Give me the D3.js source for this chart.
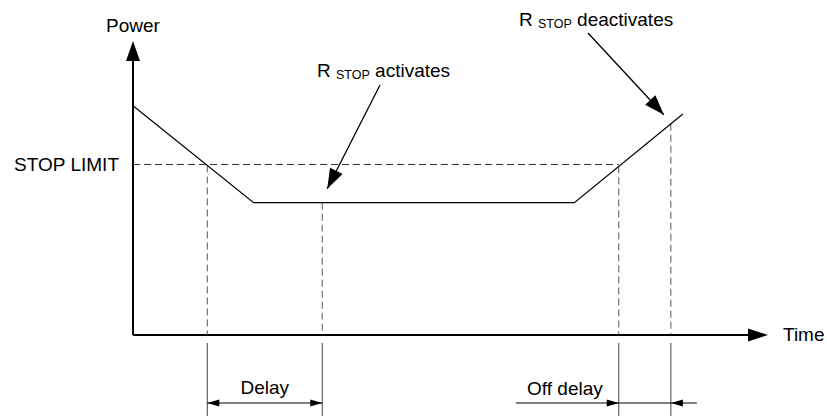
<!DOCTYPE html>
<html>
<head>
<meta charset="utf-8">
<script src="https://cdn.jsdelivr.net/npm/d3@7"></script>
<style>
  body { margin: 0; background: #fff; }
  text { font-family: "Liberation Sans", Arial, sans-serif; fill: #000; }
</style>
</head>
<body>
<script>
// data: tijd (0..10) en vermogen (0..10)
var curveTimes  = [0, 1.9, 6.95, 8.66];
var curvePower  = [7.8, 4.5, 4.5, 7.52];
var stopLimit   = 5.8;
var eventTimes  = [1.17, 2.98, 7.65, 8.47];   // grens, activeren, grens, deactiveren
var axisLabels  = ["Power", "Time", "STOP LIMIT"];
var delayLabels = ["Delay", "Off delay"];

var width = 827, height = 416;

var x = d3.scaleLinear().domain([0, 10]).range([133, 768]);
var y = d3.scaleLinear().domain([0, 10]).range([335, 41]);

var curve = curveTimes.map(function(t, i) { return {t: t, p: curvePower[i]}; });

// vermogen op tijd t (lineair tussen de knikpunten)
function powerAt(t) {
  for (var i = 1; i < curve.length; i++) {
    if (t <= curve[i].t) {
      var a = curve[i - 1], b = curve[i];
      return a.p + (b.p - a.p) * (t - a.t) / (b.t - a.t);
    }
  }
  return curve[curve.length - 1].p;
}

var svg = d3.select("body").append("svg")
    .attr("width", width)
    .attr("height", height);

// pijlpunt tekenen: punt op (x2,y2), richting vanaf (x1,y1)
function arrowHead(g, x1, y1, x2, y2, len, half) {
  var a = Math.atan2(y2 - y1, x2 - x1);
  var bx = x2 - len * Math.cos(a), by = y2 - len * Math.sin(a);
  var px = -Math.sin(a) * half, py = Math.cos(a) * half;
  g.append("path")
    .attr("d", "M" + x2 + "," + y2 + "L" + (bx + px) + "," + (by + py) +
               "L" + (bx - px) + "," + (by - py) + "Z")
    .attr("fill", "#000");
}

// assen
svg.append("line")
  .attr("x1", x(0)).attr("y1", y(0)).attr("x2", x(0)).attr("y2", y(10) + 18)
  .attr("stroke", "#000").attr("stroke-width", 2);
arrowHead(svg, x(0), y(0), x(0), y(10), 20, 7);

svg.append("line")
  .attr("x1", x(0)).attr("y1", y(0)).attr("x2", x(10) - 18).attr("y2", y(0))
  .attr("stroke", "#000").attr("stroke-width", 2);
arrowHead(svg, x(0), y(0), x(10), y(0), 20, 6.5);

// stop limit (gestreept)
svg.append("line")
  .attr("x1", x(0)).attr("y1", y(stopLimit))
  .attr("x2", x(eventTimes[2])).attr("y2", y(stopLimit))
  .attr("stroke", "#333").attr("stroke-dasharray", "7,4");

// verticale streeplijnen van de curve naar de tijdas
eventTimes.forEach(function(t) {
  svg.append("line")
    .attr("x1", x(t)).attr("y1", y(powerAt(t)))
    .attr("x2", x(t)).attr("y2", y(0))
    .attr("stroke", "#555").attr("stroke-dasharray", "7,4");
  // doorgetrokken lijnen onder de as
  svg.append("line")
    .attr("x1", x(t)).attr("y1", y(0) + 8)
    .attr("x2", x(t)).attr("y2", height)
    .attr("stroke", "#444");
});

// vermogenscurve
svg.append("path")
  .datum(curve)
  .attr("fill", "none")
  .attr("stroke", "#000")
  .attr("stroke-width", 1.2)
  .attr("d", d3.line().x(function(d) { return x(d.t); }).y(function(d) { return y(d.p); }));

// labels van de assen
svg.append("text").attr("x", x(0)).attr("y", 32)
  .attr("text-anchor", "middle").style("font-size", "19px").text(axisLabels[0]);
svg.append("text").attr("x", x(10) + 15).attr("y", y(0) + 6)
  .style("font-size", "19px").text(axisLabels[1]);
svg.append("text").attr("x", x(0) - 14).attr("y", y(stopLimit) + 7)
  .attr("text-anchor", "end").style("font-size", "19px").text(axisLabels[2]);

// delay maatpijl
var arrowY = 403;
svg.append("line")
  .attr("x1", x(eventTimes[0])).attr("y1", arrowY)
  .attr("x2", x(eventTimes[1])).attr("y2", arrowY)
  .attr("stroke", "#000");
arrowHead(svg, x(eventTimes[1]), arrowY, x(eventTimes[0]), arrowY, 12, 3.5);
arrowHead(svg, x(eventTimes[0]), arrowY, x(eventTimes[1]), arrowY, 12, 3.5);
svg.append("text")
  .attr("x", (x(eventTimes[0]) + x(eventTimes[1])) / 2).attr("y", 394)
  .attr("text-anchor", "middle").style("font-size", "19px").text(delayLabels[0]);

// off delay maatpijl (pijlen van buitenaf)
svg.append("line")
  .attr("x1", x(eventTimes[2]) - 103).attr("y1", arrowY)
  .attr("x2", x(eventTimes[3]) + 26).attr("y2", arrowY)
  .attr("stroke", "#000");
arrowHead(svg, x(eventTimes[2]) - 20, arrowY, x(eventTimes[2]), arrowY, 12, 3.5);
arrowHead(svg, x(eventTimes[3]) + 20, arrowY, x(eventTimes[3]), arrowY, 12, 3.5);
svg.append("text")
  .attr("x", x(eventTimes[2]) - 16).attr("y", 395)
  .attr("text-anchor", "end").style("font-size", "19px").text(delayLabels[1]);

// annotaties R STOP
function rstop(x0, yb, word) {
  var t = svg.append("text").attr("x", x0).attr("y", yb).style("font-size", "19px");
  t.append("tspan").text("R ");
  t.append("tspan").attr("dy", 2).style("font-size", "12.5px").text("STOP");
  t.append("tspan").attr("dy", -2).text(" " + word);
}
rstop(317, 77, "activates");
rstop(519, 26, "deactivates");

// annotatiepijlen
var a1 = {x1: 380, y1: 85, x2: x(eventTimes[1]) + 5, y2: y(powerAt(eventTimes[1])) - 14};
svg.append("line").attr("x1", a1.x1).attr("y1", a1.y1).attr("x2", a1.x2).attr("y2", a1.y2)
  .attr("stroke", "#000").attr("stroke-width", 1.3);
arrowHead(svg, a1.x1, a1.y1, a1.x2, a1.y2, 20, 7);

var a2 = {x1: 588, y1: 33, x2: x(eventTimes[3]) - 7, y2: y(powerAt(eventTimes[3])) - 9};
svg.append("line").attr("x1", a2.x1).attr("y1", a2.y1).attr("x2", a2.x2).attr("y2", a2.y2)
  .attr("stroke", "#000").attr("stroke-width", 1.3);
arrowHead(svg, a2.x1, a2.y1, a2.x2, a2.y2, 20, 7);
</script>
</body>
</html>
